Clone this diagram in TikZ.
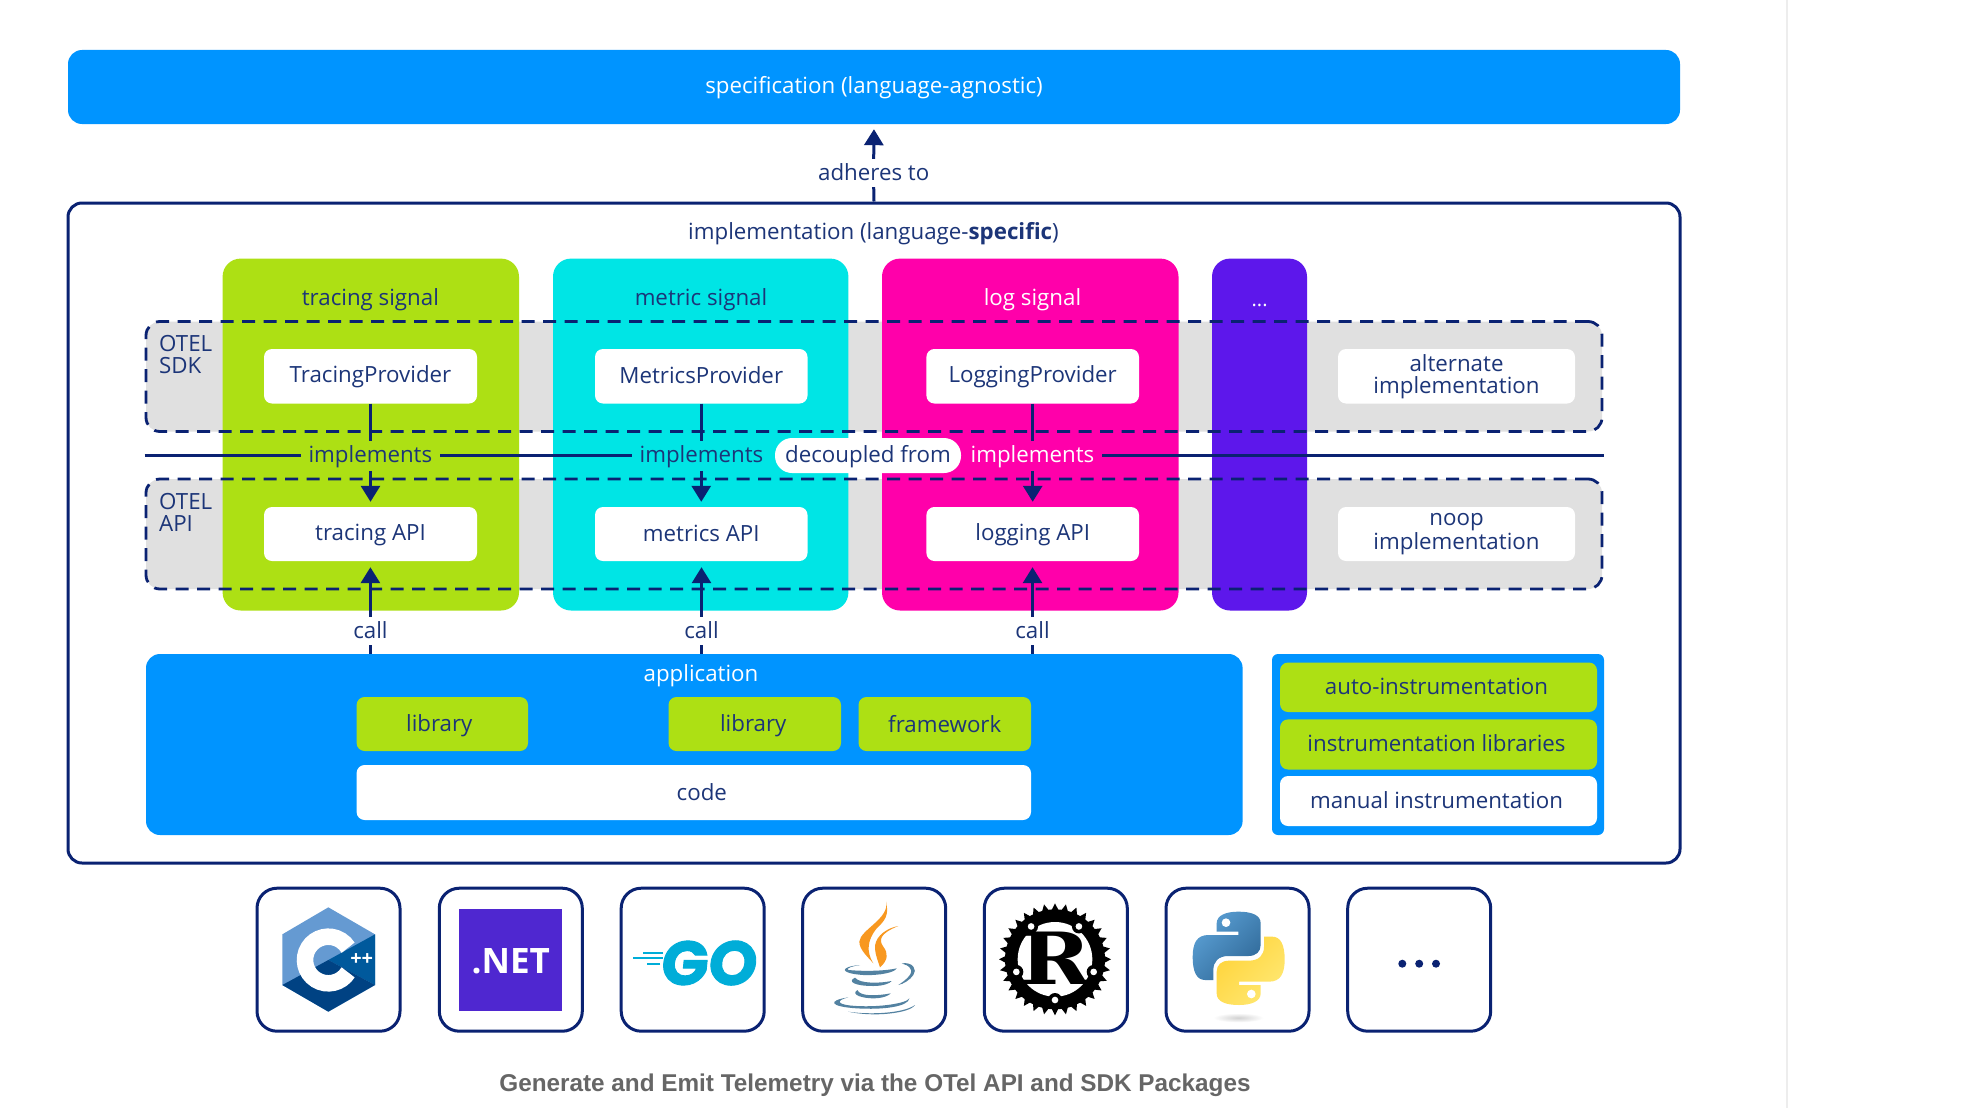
\documentclass[tikz,border=0pt]{standalone}
\usepackage{fontspec}
\setmainfont{Open Sans}
\newfontfamily\capfont{Liberation Sans}
\newfontfamily\gofont[FakeSlant=0.1,FakeBold=1.5]{Poppins}
\newfontfamily\rustfont{DejaVu Serif}
\usetikzlibrary{arrows.meta,calc}
\definecolor{specblue}{HTML}{0094FF}
\definecolor{limeg}{HTML}{ADE014}
\definecolor{cyansig}{HTML}{00E5E5}
\definecolor{pinksig}{HTML}{FF00AA}
\definecolor{purplesig}{HTML}{5D17EB}
\definecolor{navyline}{HTML}{0A2272}
\definecolor{navytext}{HTML}{1C3578}
\definecolor{greyband}{HTML}{E0E0E0}
\definecolor{cpplight}{HTML}{659AD2}
\definecolor{cppmid}{HTML}{00599C}
\definecolor{cppdark}{HTML}{004283}
\definecolor{netpurple}{HTML}{4F27D0}
\definecolor{gocyan}{HTML}{00ADD8}
\definecolor{javaorange}{HTML}{F89820}
\definecolor{javablue}{HTML}{5382A1}
\definecolor{pyb1}{HTML}{5A9FD4}
\definecolor{pyb2}{HTML}{306998}
\definecolor{pyy1}{HTML}{FFE873}
\definecolor{pyy2}{HTML}{FFD43B}
\newcommand{\lblstrut}{\rule[-3.5pt]{0pt}{22pt}}
\tikzset{
  labeltext/.style={font=\fontsize{22.3}{22}\selectfont,text=navytext,align=center,inner sep=0pt,
    execute at begin node={\lblstrut},execute at end node={\lblstrut}},
  panel/.style={rounded corners=14pt,inner sep=0pt,labeltext},
  column/.style={panel,rounded corners=18pt},
  whitebox/.style={panel,fill=white,rounded corners=8pt},
  limebox/.style={panel,fill=limeg,rounded corners=8pt},
  band/.style={rounded corners=14pt,inner sep=0pt},
  bandline/.style={draw=navyline,line width=2.8pt,dash pattern=on 13pt off 8.5pt},
  wire/.style={draw=navyline,line width=3pt},
  arrowwire/.style={wire,-{Triangle[width=19pt,length=16pt]}},
  gaplabel/.style={labeltext,minimum width=139pt,minimum height=29.5pt},
  iconbox/.style={draw=navyline,line width=3pt,fill=white,rounded corners=20pt,inner sep=0pt,minimum width=143pt,minimum height=143pt},
}
\newcommand{\bx}[7]{%
  \pgfmathsetmacro{\cxx}{(#3+#5)/2}\pgfmathsetmacro{\cyy}{(#4+#6)/2}%
  \pgfmathsetmacro{\wdd}{#5-#3}\pgfmathsetmacro{\htt}{#6-#4}%
  \node[#2,minimum width=\wdd pt,minimum height=\htt pt] (#1) at (\cxx,\cyy) {#7};}
\begin{document}
\begin{tikzpicture}[x=1pt,y=-1pt]
\useasboundingbox (0,0) rectangle (1972,1108);
\fill[white] (0,0) rectangle (1972,1108);
\coordinate (rt) at (1787,0); \coordinate (rb) at (1787,1108);
\draw[color=black!7,line width=1.5pt] (rt) -- (rb);

% top
\bx{spec}{panel,fill=specblue,text=white}{68}{50}{1680}{124}{specification (language-agnostic)}
\bx{impl}{panel,draw=navyline,line width=3pt,fill=white}{68}{203}{1680}{863}{}
\node[labeltext] (title) at (873.5,233) {implementation (language-\textbf{specific})};
\node[labeltext,fill=white,minimum height=28pt] (adh) at (873.7,173) {adheres to};

% grey bands
\bx{sdk}{band,fill=greyband}{146}{321.5}{1602}{431.5}{}
\bx{api}{band,fill=greyband}{146}{479}{1602}{589}{}

% columns
\bx{ctr}{column,fill=limeg}{222.6}{258.6}{519}{610.5}{}
\bx{cme}{column,fill=cyansig}{553}{258.6}{848.4}{610.5}{}
\bx{clo}{column,fill=pinksig}{882}{258.6}{1178.5}{610.5}{}
\bx{cpu}{column,fill=purplesig}{1212}{258.6}{1307}{610.5}{}
\node[labeltext] (ltr) at (370.4,298.6) {tracing signal};
\node[labeltext] (lme) at (701,298.6) {metric signal};
\node[labeltext,text=white] (llo) at (1032.5,298.6) {log signal};
\node[labeltext,text=white,font=\fontsize{20}{22}\selectfont] (lpu) at (1259.6,299) {...};

% dashed outlines over columns
\bx{sdkd}{band,bandline}{146}{321.5}{1602}{431.5}{}
\bx{apid}{band,bandline}{146}{479}{1602}{589}{}
\node[labeltext,anchor=west,align=left] (lsdk) at (159,355.7) {OTEL\\SDK};
\node[labeltext,anchor=west,align=left] (lapi) at (159,514) {OTEL\\API};

% white boxes
\bx{ptr}{whitebox}{264}{349}{477}{403.5}{TracingProvider}
\bx{pme}{whitebox}{595}{349}{807.5}{403.5}{MetricsProvider}
\bx{plo}{whitebox}{926.4}{349}{1139}{403.5}{LoggingProvider}
\bx{alt}{whitebox}{1338}{349}{1575}{403.5}{alternate\\implementation}
\bx{atr}{whitebox}{264}{507}{477}{561}{tracing API}
\bx{ame}{whitebox}{595}{507}{807.5}{561}{metrics API}
\bx{alo}{whitebox}{926.4}{507}{1139}{561}{logging API}
\bx{noop}{whitebox}{1338}{507}{1575}{561}{noop\\implementation}

% implements
\node[gaplabel,fill=limeg] (i1) at (370.4,456) {implements};
\node[gaplabel,fill=cyansig] (i2) at (701.5,456) {implements};
\node[gaplabel,fill=pinksig,text=white] (i3) at (1032.5,456) {implements};
\node[labeltext,fill=white,rounded corners=17pt,minimum width=186pt,minimum height=35pt] (dec) at (868,455.5) {decoupled from};
\coordinate (hl) at (144.6,455.5); \coordinate (hr) at (1603.6,455.5);
\draw[wire] (hl) -- (hl -| i1.west);
\draw[wire] (i1.east |- hl) -- (i2.west |- hl);
\draw[wire] (i3.east |- hr) -- (hr);
\foreach \p/\i/\a in {ptr/i1/atr,pme/i2/ame,plo/i3/alo}{
  \draw[wire] (\p.south) -- (\p.south |- \i.north);
  \draw[arrowwire,shorten >=5pt] (\p.south |- \i.south) -- (\a.north);
}

% application
\bx{app}{panel,fill=specblue}{146}{654}{1242.6}{835}{}
\node[labeltext,text=white] (lapp) at (701,675) {application};
\bx{lib1}{limebox}{356.6}{697}{528}{751}{\raisebox{-1.5pt}{library}\hspace*{6pt}}
\bx{lib2}{limebox}{668.5}{697}{841}{751}{\raisebox{-1.5pt}{library}\hspace*{3pt}}
\bx{fw}{limebox}{858.5}{697}{1031}{751}{\raisebox{-1pt}{framework}}
\bx{code}{whitebox}{356.6}{765}{1031}{820}{\hspace*{16pt}code}

% calls
\node[labeltext,fill=white,minimum height=28pt] (c1) at (370.4,631) {call};
\node[labeltext,fill=white,minimum height=28pt] (c2) at (701.5,631) {call};
\node[labeltext,fill=white,minimum height=28pt] (c3) at (1032.5,631) {call};
\foreach \c/\a in {c1/atr,c2/ame,c3/alo}{
  \draw[wire] (\c.south) -- (\c.south |- app.north);
  \draw[arrowwire,shorten >=6pt] (\c.north) -- (\c.north |- \a.south);
}
\draw[wire] (impl.north) -- (adh.south);
\draw[arrowwire,shorten >=5pt] (adh.north) -- (spec.south);

% instrumentation
\bx{ins}{panel,fill=specblue,rounded corners=6pt}{1272}{654}{1604}{835}{}
\bx{ia}{limebox}{1280}{662.5}{1597}{712}{auto-instrumentation\hspace*{4pt}}
\bx{il}{limebox}{1280}{719.4}{1597}{769.5}{instrumentation libraries\hspace*{4pt}}
\bx{im}{whitebox}{1280}{776}{1597}{826}{manual instrumentation\hspace*{4pt}}

% language icons
\node[iconbox] (k1) at (328.5,959.7) {};
\node[iconbox] (k2) at (510.8,959.7) {};
\node[iconbox] (k3) at (692.7,959.7) {};
\node[iconbox] (k4) at (874.2,959.7) {};
\node[iconbox] (k5) at (1055.8,959.7) {};
\node[iconbox] (k6) at (1237.5,959.7) {};
\node[iconbox] (k7) at (1419.2,959.7) {};

% C++ logo
\begin{scope}[shift={(240,880)},x=0.33333pt,y=-0.33333pt]
  \fill[color=cpplight] (265,82) -- (405,163) -- (405,315) -- (265,395) -- (127,315) -- (127,163) -- cycle;
  \fill[color=cppmid] (265,240) -- (405,163) -- (405,315) -- cycle;
  \fill[color=cppdark] (127,315) -- (265,240) -- (405,315) -- (265,395) -- cycle;
  \draw[white,line width=16.5pt] (265,240) ++(32:70) arc[start angle=32,end angle=328,radius=70];
  \node[text=white,inner sep=0pt,font=\bfseries\fontsize{20}{20}\selectfont] (plus) at (365,240) {++};
\end{scope}

% .NET logo
\fill[color=netpurple] (459,909) rectangle (561.7,1010.7);
\node[text=white,inner sep=0pt,font=\bfseries\fontsize{35}{35}\selectfont] (net) at (510.8,961) {.NET};

% Go logo
\node[text=gocyan,inner sep=0pt,font=\gofont\bfseries\fontsize{62}{62}\selectfont] (go) at (707.5,963) {GO};
\coordinate (g1) at (663,958); \coordinate (g2) at (663,953); \coordinate (g3) at (660,964);
\draw[gocyan,line width=2pt] (g1) -- ++(-30,0);
\draw[gocyan,line width=2pt] (g2) -- ++(-20,0);
\draw[gocyan,line width=2pt] (g3) -- ++(-13,0);

% Java logo
\begin{scope}[shift={(780,880)},x=0.33333pt,y=-0.33333pt]
  \fill[color=javaorange] (318,65) .. controls (330,115) and (240,150) .. (238,185) .. controls (238,210) and (265,232) .. (280,250) .. controls (258,215) and (262,180) .. (290,145) .. controls (315,122) and (328,105) .. (318,65) -- cycle;
  \fill[color=javaorange] (355,138) .. controls (305,148) and (283,180) .. (285,205) .. controls (287,230) and (295,245) .. (300,262) .. controls (325,240) and (325,220) .. (310,200) .. controls (295,180) and (300,160) .. (355,138) -- cycle;
  \fill[color=javablue] (240,255) .. controls (180,260) and (175,280) .. (250,285) .. controls (300,287) and (345,277) .. (350,265) .. controls (320,272) and (260,275) .. (205,270) .. controls (195,265) and (220,258) .. (240,255) -- cycle;
  \fill[color=javablue] (225,293) .. controls (200,305) and (225,318) .. (280,318) .. controls (310,318) and (330,310) .. (335,303) .. controls (300,310) and (240,312) .. (225,293) -- cycle;
  \fill[color=javablue] (232,330) .. controls (210,345) and (250,355) .. (280,355) .. controls (310,355) and (330,345) .. (332,340) .. controls (290,348) and (240,350) .. (232,330) -- cycle;
  \fill[color=javablue] (205,352) .. controls (140,362) and (150,380) .. (230,385) .. controls (310,390) and (385,380) .. (388,355) .. controls (380,370) and (300,382) .. (230,378) .. controls (170,375) and (165,362) .. (205,352) -- cycle;
  \fill[color=javablue] (205,395) .. controls (270,405) and (370,400) .. (405,375) .. controls (390,400) and (280,412) .. (205,395) -- cycle;
  \fill[color=javablue] (365,250) .. controls (400,245) and (412,270) .. (400,285) .. controls (390,300) and (370,312) .. (355,315) .. controls (370,305) and (398,285) .. (393,270) .. controls (388,255) and (375,255) .. (365,250) -- cycle;
\end{scope}

% Rust logo
\begin{scope}[shift={(780,880)},x=0.33333pt,y=-0.33333pt]
  \coordinate (rc) at (825,238);
  \fill[black] (rc) circle[radius=150];
  \foreach \a in {0,11.25,...,349}{
    \fill[black] ($(rc)+(\a-4.5:146)$) -- ($(rc)+(\a:168)$) -- ($(rc)+(\a+4.5:146)$) -- cycle;
  }
  \fill[white] (rc) circle[radius=112];
  \foreach \a in {90,162,18,234,306}{
    \fill[black] ($(rc)+(\a:122)$) circle[radius=21];
    \fill[white] ($(rc)+(\a:122)$) circle[radius=10];
  }
  \node[inner sep=0pt,text=black,xscale=1.2,font=\rustfont\bfseries\fontsize{72}{72}\selectfont] (rust) at (825,235) {R};
\end{scope}

% Python logo
\begin{scope}[shift={(1150,880)},x=0.33333pt,y=-0.33333pt]
  \shade[inner color=black!18,outer color=white] (265,413) ellipse[x radius=75,y radius=14];
  \def\snake{(265,95) .. controls (305,95) and (332,105) .. (332,130) -- (332,195) .. controls (332,215) and (318,228) .. (295,228) -- (235,228) .. controls (205,228) and (190,245) .. (190,270) -- (190,300) -- (165,300) .. controls (140,300) and (128,275) .. (128,232) .. controls (128,190) and (140,165) .. (175,165) -- (265,165) -- (265,155) -- (200,155) -- (200,130) .. controls (200,105) and (230,95) .. (265,95) -- cycle}
  \shade[top color=pyb1,bottom color=pyb2,shading angle=45] \snake;
  \fill[white] (228,128) circle[radius=13];
  \begin{scope}[rotate around={180:(266,235)}]
    \shade[top color=pyy2,bottom color=pyy1,shading angle=45] \snake;
    \fill[white] (228,128) circle[radius=13];
  \end{scope}
\end{scope}

% more languages
\foreach \n/\px in {m1/1402.3,m2/1419.2,m3/1436}{
  \node[circle,fill=navyline,inner sep=0pt,minimum size=8pt] (\n) at (\px,963.7) {};
}

% caption
\node[inner sep=0pt,text=black!60,font=\capfont\bfseries\fontsize{24.3}{26}\selectfont] (cap) at (875,1085) {Generate and Emit Telemetry via the OTel API and SDK Packages};
\end{tikzpicture}
\end{document}
